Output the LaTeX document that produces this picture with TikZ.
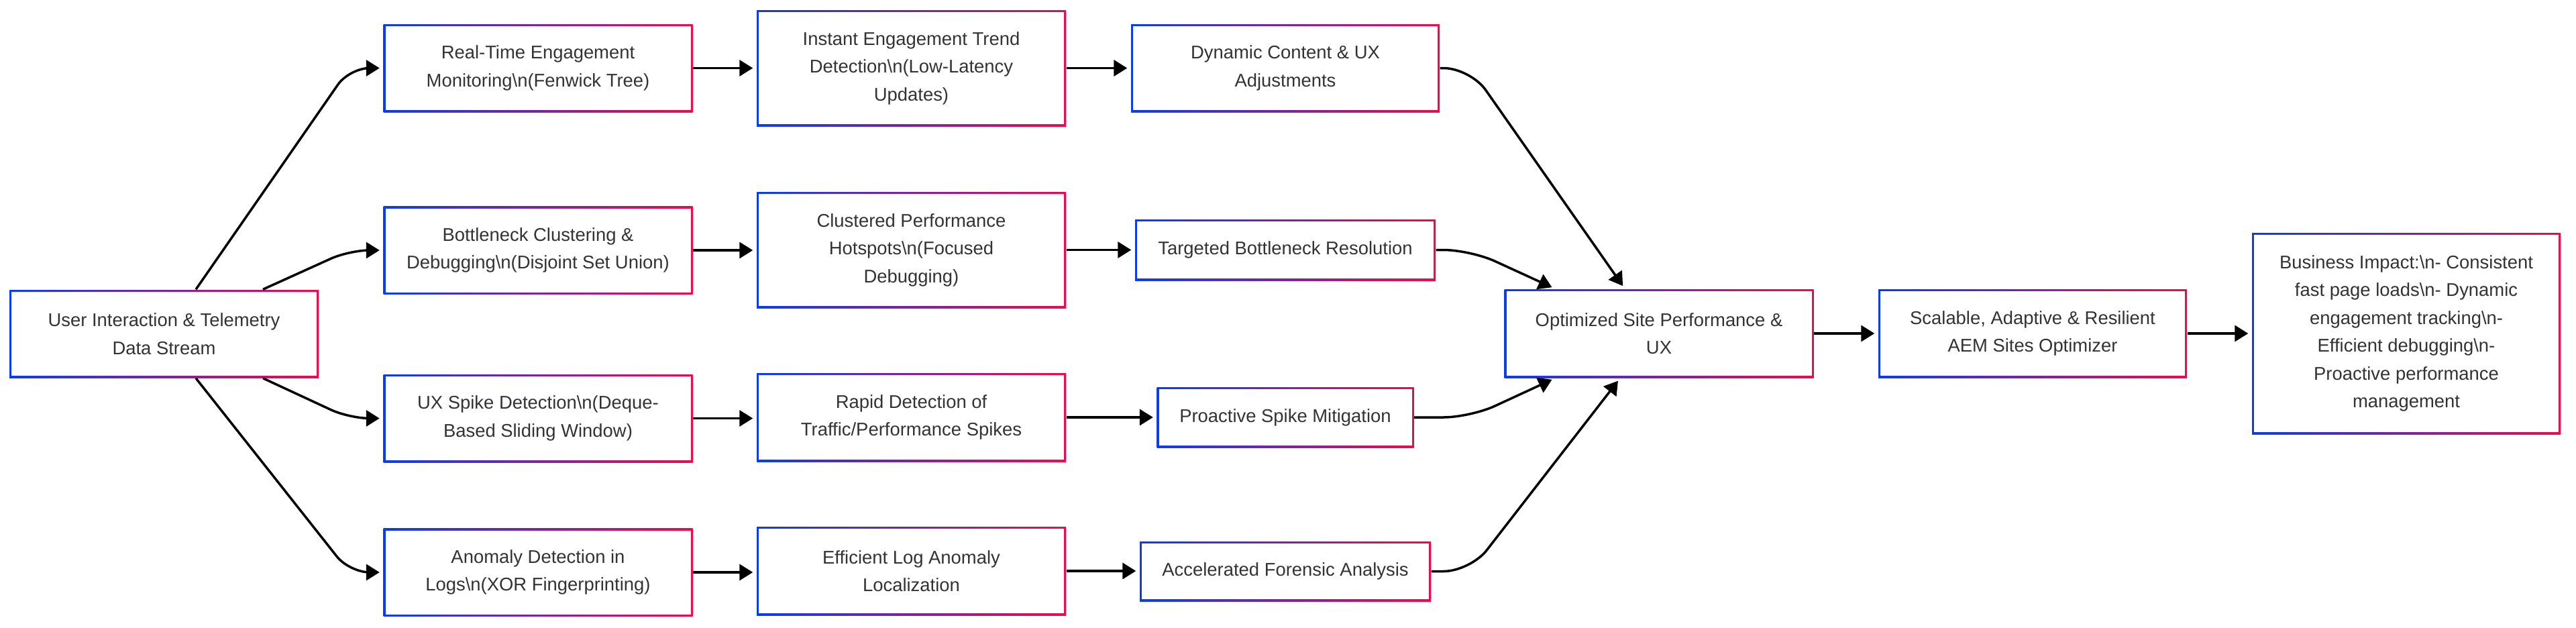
\documentclass[tikz,border=0pt]{standalone}
\usepackage{fontspec}
\setmainfont{Liberation Sans}
\usepackage{tikz}
\usetikzlibrary{arrows.meta,calc}
\definecolor{GradBlue}{HTML}{0A3CF2}
\definecolor{GradRed}{HTML}{F00A4A}
\definecolor{Ink}{HTML}{333333}
\newcommand{\bsn}{\textbackslash n}

\begin{document}
\begin{tikzpicture}[
  flow/.style={rectangle,inner sep=1mm,align=center,text=Ink,
    font=\fontsize{7.8pt}{11.8pt}\selectfont,
    minimum width=46.1mm,minimum height=13.1mm,
    path picture={
      \shade[left color=GradBlue,right color=GradRed]
        (path picture bounding box.south west) rectangle (path picture bounding box.north east);
      \fill[white] ([shift={(0.3mm,0.3mm)}]path picture bounding box.south west)
        rectangle ([shift={(-0.3mm,-0.3mm)}]path picture bounding box.north east);}},
  link/.style={-{Triangle[length=2mm,width=2.4mm]},line width=0.35mm,black,shorten >=0.5mm}
]
\useasboundingbox (0,0) rectangle (38.4,-9.35);

% Source stream.
\node[flow] (s0) at (2.445,-4.975) {User Interaction \& Telemetry\\Data Stream};

% Column 1: data-structure based detectors.
\node[flow] (a1) at (8.02,-1.015) {Real-Time Engagement\\Monitoring\bsn(Fenwick Tree)};
\node[flow] (a2) at (8.02,-3.73) {Bottleneck Clustering \&\\Debugging\bsn(Disjoint Set Union)};
\node[flow] (a3) at (8.02,-6.235) {UX Spike Detection\bsn(Deque-\\Based Sliding Window)};
\node[flow] (a4) at (8.02,-8.53) {Anomaly Detection in\\Logs\bsn(XOR Fingerprinting)};

% Column 2: what they reveal.
\node[flow,minimum height=17.3mm] (b1) at (13.585,-1.015) {Instant Engagement Trend\\Detection\bsn(Low-Latency\\Updates)};
\node[flow,minimum height=17.3mm] (b2) at (13.585,-3.725) {Clustered Performance\\Hotspots\bsn(Focused\\Debugging)};
\node[flow,minimum height=13.2mm] (b3) at (13.585,-6.22) {Rapid Detection of\\Traffic/Performance Spikes};
\node[flow,minimum height=13.2mm] (b4) at (13.585,-8.51) {Efficient Log Anomaly\\Localization};

% Column 3: actions.
\node[flow,minimum width=46mm] (c1) at (19.16,-1.015) {Dynamic Content \& UX\\Adjustments};
\node[flow,minimum width=44.8mm,minimum height=9.1mm] (c2) at (19.16,-3.725) {Targeted Bottleneck Resolution};
\node[flow,minimum width=38.3mm,minimum height=9mm] (c3) at (19.16,-6.22) {Proactive Spike Mitigation};
\node[flow,minimum width=43.4mm,minimum height=8.9mm] (c4) at (19.16,-8.515) {Accelerated Forensic Analysis};

% Outcome chain.
\node[flow,minimum height=13.2mm] (d0) at (24.73,-4.97) {Optimized Site Performance \&\\UX};
\node[flow,minimum width=46mm,minimum height=13.2mm] (e0) at (30.30,-4.97) {Scalable, Adaptive \& Resilient\\AEM Sites Optimizer};
\node[flow,minimum width=46mm,minimum height=30mm] (f0) at (35.87,-4.97) {Business Impact:\bsn- Consistent\\fast page loads\bsn- Dynamic\\engagement tracking\bsn-\\Efficient debugging\bsn-\\Proactive performance\\management};

% Fan out from the stream.
\draw[link,rounded corners=3mm] ([xshift=4.75mm]s0.north) -- ([xshift=-5mm]a1.west) -- (a1.west);
\draw[link,rounded corners=3mm] ([xshift=14.75mm]s0.north) -- ([xshift=-5mm]a2.west) -- (a2.west);
\draw[link,rounded corners=3mm] ([xshift=14.75mm]s0.south) -- ([xshift=-5mm]a3.west) -- (a3.west);
\draw[link,rounded corners=3mm] ([xshift=4.75mm]s0.south) -- ([xshift=-5mm]a4.west) -- (a4.west);

\foreach \i in {1,...,4}{
  \draw[link] (a\i.east|-a\i) -- (b\i.west|-a\i);
  \draw[link] (b\i.east|-b\i) -- (c\i.west|-b\i);
}

% Merge into the optimized site.
\coordinate (jr) at ([xshift=-5mm]d0.west);
\draw[link,rounded corners=4mm] (c1.east) -- (jr|-c1.east) -- ([xshift=-5.1mm]d0.north);
\draw[link,rounded corners=4mm] (c2.east) -- (jr|-c2.east) -- ([xshift=-15.5mm]d0.north);
\draw[link,rounded corners=4mm] (c3.east) -- (jr|-c3.east) -- ([xshift=-15.5mm]d0.south);
\draw[link,rounded corners=4mm] (c4.east) -- (jr|-c4.east) -- ([xshift=-5.8mm]d0.south);

\draw[link] (d0) -- (e0);
\draw[link] (e0) -- (f0);
\end{tikzpicture}
\end{document}
